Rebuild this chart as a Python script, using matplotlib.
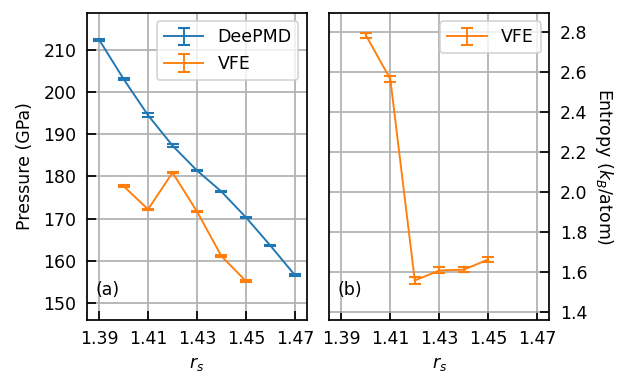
import numpy as np
import matplotlib
matplotlib.use('Agg')
import matplotlib.pyplot as plt

# Pressure vs r_s
rs_deepmd = [1.39, 1.40, 1.41, 1.42, 1.43, 1.44, 1.45, 1.46, 1.47]
p_deepmd = [212.4, 203.1, 194.5, 187.3, 181.4, 176.4, 170.3, 163.6, 156.6]
p_deepmd_err = [0.2, 0.3, 0.5, 0.3, 0.2, 0.2, 0.2, 0.2, 0.2]

rs_vfe = [1.40, 1.41, 1.42, 1.43, 1.44, 1.45]
p_vfe = [177.7, 172.2, 180.9, 171.7, 161.1, 155.2]
p_vfe_err = [0.2, 0.2, 0.2, 0.2, 0.2, 0.2]

# Entropy vs r_s
s_vfe = [2.786, 2.566, 1.559, 1.609, 1.613, 1.664]
s_vfe_err = [0.013, 0.015, 0.017, 0.015, 0.013, 0.012]

xticks = [1.39, 1.41, 1.43, 1.45, 1.47]

plt.rcParams['font.size'] = 10
line_width = 1.0

fig, (ax1, ax2) = plt.subplots(1, 2, figsize=(5, 3), dpi=125)
fig.subplots_adjust(left=0.139, right=0.879, top=0.966, bottom=0.147, wspace=0.1)

ax1.errorbar(rs_deepmd, p_deepmd, yerr=p_deepmd_err, lw=1.1, capsize=3.5, capthick=1.2, color='C0', label='DeePMD')
ax1.errorbar(rs_vfe, p_vfe, yerr=p_vfe_err, lw=1.1, capsize=3.5, capthick=1.2, color='C1', label='VFE')
ax1.set_xlim(1.385, 1.475)
ax1.set_ylim(146, 218.8)
ax1.set_xticks(xticks)
ax1.set_ylabel('Pressure (GPa)', labelpad=5.5)
ax1.set_xlabel('$r_s$')
ax1.grid(True, linewidth=1.0)
ax1.legend(loc='upper right', handlelength=2.3)
ax1.text(0.04, 0.08, '(a)', transform=ax1.transAxes)

ax2.errorbar(rs_vfe, s_vfe, yerr=s_vfe_err, lw=1.1, capsize=3.5, capthick=1.2, color='C1', label='VFE')
ax2.set_xlim(1.385, 1.475)
ax2.set_ylim(1.362, 2.898)
ax2.set_xticks(xticks)
ax2.yaxis.tick_right()
ax2.yaxis.set_label_position('right')
ax2.set_ylabel('Entropy ($k_B$/atom)', rotation=270, labelpad=16)
ax2.set_xlabel('$r_s$')
ax2.grid(True, linewidth=1.0)
ax2.legend(loc='upper right', handlelength=2.3)
ax2.text(0.04, 0.08, '(b)', transform=ax2.transAxes)

for ax in (ax1, ax2):
    ax.tick_params(direction='in', length=5, width=line_width, pad=6)
    for spine in ['top', 'bottom', 'left', 'right']:
        ax.spines[spine].set_linewidth(line_width)

fig.savefig('out.png', dpi=125)
